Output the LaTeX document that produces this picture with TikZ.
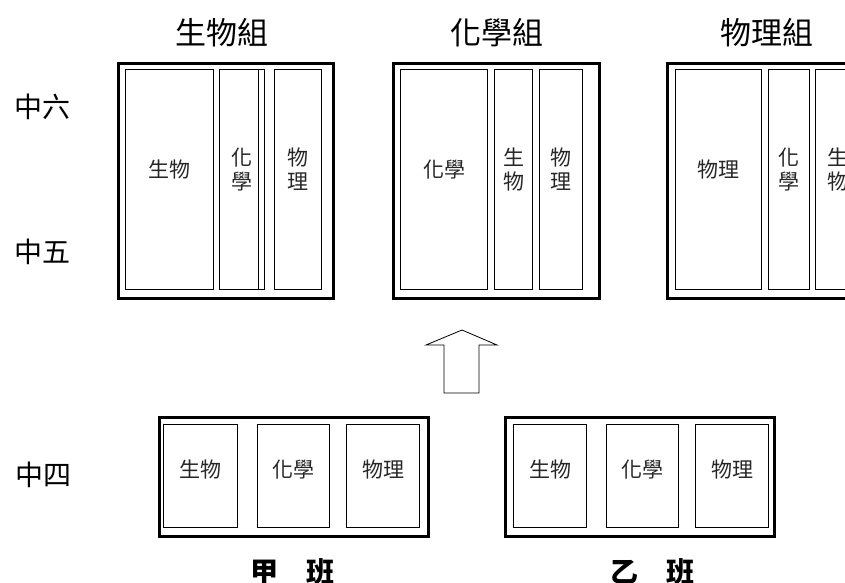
\documentclass[tikz,border=0pt]{standalone}
\usepackage{fontspec}
\setmainfont{Noto Sans CJK TC}

\begin{document}
\begin{tikzpicture}[x=1pt,y=-1pt,
					thick,
					group/.style={draw,line width=3pt,anchor=north west,inner sep=0pt},
					tall/.style={draw,line width=1.3pt,anchor=north west,inner sep=0pt,minimum height=220},
					short/.style={draw,line width=1.3pt,anchor=north west,inner sep=0pt,minimum height=103},
					every label/.style={font=\fontsize{21}{24}\selectfont,align=center,text=black!85},
					up/.style={label={[yshift=10]center:#1}},
					low/.style={label={[yshift=7]center:#1}},
					head/.style={font=\fontsize{31}{34}\selectfont},
					form/.style={font=\fontsize{28}{30}\selectfont},
					klass/.style={font=\fontsize{28}{30}\selectfont\bfseries}]

  \useasboundingbox (0,0) rectangle (845,582);
  \clip (0,0) rectangle (845,582);

  \node[head] (Hbio) at (222,33) {生物組};
  \node[head] (Hchem) at (497,33) {化學組};
  \node[head] (Hphy) at (767,33) {物理組};

  \node[form] (F6) at (42,107) {中六};
  \node[form] (F5) at (42,252) {中五};
  \node[form] (F4) at (44,475) {中四};

  % form six and five
  \node[group,minimum width=215,minimum height=235] (Gbio) at (117,62) {};
  \node[tall,minimum width=88,up=生物] (Gbio1) at (125,69) {};
  \node[tall,minimum width=45,up={化\\學}] (Gbio2) at (219,69) {};
  \draw[line width=1.3pt] ([xshift=-7]Gbio2.north east) -- ([xshift=-7]Gbio2.south east);
  \node[tall,minimum width=47,up={物\\理}] (Gbio3) at (274,69) {};

  \node[group,minimum width=206,minimum height=235] (Gchem) at (392,62) {};
  \node[tall,minimum width=87,up=化學] (Gchem1) at (400,69) {};
  \node[tall,minimum width=38,up={生\\物}] (Gchem2) at (494,69) {};
  \node[tall,minimum width=43,up={物\\理}] (Gchem3) at (539,69) {};

  \node[group,minimum width=214,minimum height=235] (Gphy) at (666,62) {};
  \node[tall,minimum width=86,up=物理] (Gphy1) at (675,69) {};
  \node[tall,minimum width=41,up={化\\學}] (Gphy2) at (768,69) {};
  \node[tall,minimum width=45,up={生\\物}] (Gphy3) at (815,69) {};

  \draw[line width=0.8pt] (462,330) -- (497,345) -- (479,345) -- (479,393)
    -- (444,393) -- (444,345) -- (426,345) -- cycle;

  % form four
  \node[group,minimum width=269,minimum height=119] (A) at (158,416) {};
  \node[short,minimum width=74,low=生物] (A1) at (163,424) {};
  \node[short,minimum width=72,low=化學] (A2) at (257,424) {};
  \node[short,minimum width=73,low=物理] (A3) at (346,424) {};
  \node[klass] (Aname) at (292,572) {甲　班};

  \node[group,minimum width=269,minimum height=119] (B) at (504,416) {};
  \node[short,minimum width=73,low=生物] (B1) at (513,424) {};
  \node[short,minimum width=72,low=化學] (B2) at (606,424) {};
  \node[short,minimum width=73,low=物理] (B3) at (695,424) {};
  \node[klass] (Bname) at (652,572) {乙　班};
\end{tikzpicture}
\end{document}
